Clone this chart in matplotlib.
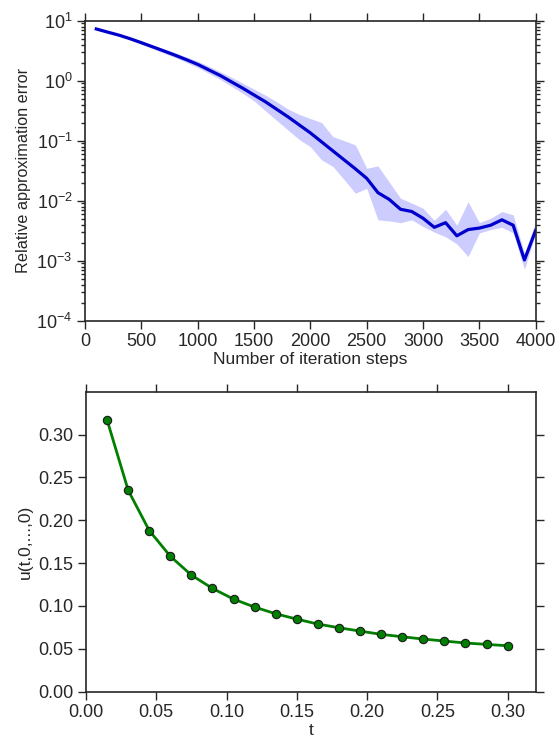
import matplotlib

matplotlib.use('Agg')

import matplotlib.pyplot as plt
import numpy as np

# iteration steps and relative error (mean with min/max band)
steps = np.arange(100, 4001, 100)
err_mean = [7.28, 6.46, 5.75, 5.01, 4.30, 3.67, 3.13, 2.66, 2.24, 1.87,
            1.51, 1.22, 0.955, 0.750, 0.578, 0.447, 0.335, 0.251, 0.184, 0.135,
            0.0955, 0.0676, 0.0479, 0.0339, 0.0236, 0.0136, 0.0105, 0.0072, 0.0066, 0.0051,
            0.0036, 0.0043, 0.0026, 0.0033, 0.0035, 0.0039, 0.0048, 0.0039, 0.00103, 0.0032]
err_upper = [7.41, 6.61, 5.96, 5.25, 4.57, 3.94, 3.39, 2.92, 2.48, 2.11,
             1.74, 1.41, 1.14, 0.912, 0.724, 0.575, 0.447, 0.339, 0.275, 0.234,
             0.200, 0.117, 0.100, 0.085, 0.0347, 0.038, 0.0204, 0.011, 0.0091, 0.0075,
             0.0047, 0.0072, 0.0039, 0.0096, 0.0043, 0.0051, 0.0066, 0.0058, 0.00133, 0.0045]
err_lower = [7.16, 6.31, 5.56, 4.79, 4.03, 3.43, 2.88, 2.43, 2.02, 1.66,
             1.32, 1.05, 0.804, 0.617, 0.462, 0.316, 0.219, 0.151, 0.105, 0.0794,
             0.0479, 0.0372, 0.0224, 0.0133, 0.0161, 0.0048, 0.0046, 0.0043, 0.0048, 0.0037,
             0.0030, 0.0025, 0.0019, 0.00117, 0.0029, 0.0033, 0.0036, 0.0029, 0.00072, 0.0029]

# solution values u(t,0,...,0)
t_vals = [0.015, 0.030, 0.045, 0.060, 0.075, 0.090, 0.105, 0.120, 0.135, 0.150,
          0.165, 0.180, 0.195, 0.210, 0.225, 0.240, 0.255, 0.270, 0.285, 0.300]
u_vals = [0.317, 0.235, 0.188, 0.158, 0.136, 0.1205, 0.108, 0.0987, 0.0909, 0.0847,
          0.0789, 0.0746, 0.0707, 0.0669, 0.0641, 0.0614, 0.0591, 0.0568, 0.0552, 0.0536]

plt.rcParams['font.family'] = ['Liberation Sans', 'DejaVu Sans']
plt.rcParams['text.color'] = '#262626'
plt.rcParams['axes.labelcolor'] = '#262626'
plt.rcParams['xtick.color'] = '#262626'
plt.rcParams['ytick.color'] = '#262626'
plt.rcParams['axes.edgecolor'] = '#262626'
plt.rcParams['axes.linewidth'] = 1.2


def style_axes(ax):
    ax.tick_params(which='both', direction='out', top=True, right=True,
                   labelsize=13, width=1.0, pad=3)
    ax.tick_params(which='major', length=6)
    ax.tick_params(which='minor', length=3)


fig = plt.figure(figsize=(5.56, 7.42), dpi=100)

ax1 = fig.add_axes([0.1529, 0.5678, 0.8106, 0.4043])
ax1.fill_between(steps, err_lower, err_upper, color='b', alpha=0.2, linewidth=0)
ax1.plot(steps, err_mean, color='#0000cc', linewidth=2.3)
ax1.set_yscale('log')
ax1.set_xlim(0, 4000)
ax1.set_ylim(1e-4, 1e1)
ax1.set_xticks(np.arange(0, 4001, 500))
ax1.set_xlabel('Number of iteration steps', fontsize=12.5, labelpad=1)
ax1.set_ylabel('Relative approximation error', fontsize=11.7, labelpad=4)
style_axes(ax1)

ax2 = fig.add_axes([0.1547, 0.0678, 0.8088, 0.4043])
ax2.plot(t_vals, u_vals, color='#007f00', linewidth=2, marker='o',
         markersize=6, markerfacecolor='#007f00', markeredgecolor='#1a1a1a',
         markeredgewidth=0.8)
ax2.set_xlim(0, 0.32)
ax2.set_ylim(0, 0.35)
ax2.set_xticks(np.arange(0, 0.301, 0.05))
ax2.set_yticks(np.arange(0, 0.301, 0.05))
ax2.xaxis.set_major_formatter(plt.FormatStrFormatter('%.2f'))
ax2.yaxis.set_major_formatter(plt.FormatStrFormatter('%.2f'))
ax2.set_xlabel('t', fontsize=12.5, labelpad=1)
ax2.set_ylabel('u(t,0,...,0)', fontsize=12.5, labelpad=4)
style_axes(ax2)

fig.savefig('out.png', dpi=100)
plt.close(fig)
